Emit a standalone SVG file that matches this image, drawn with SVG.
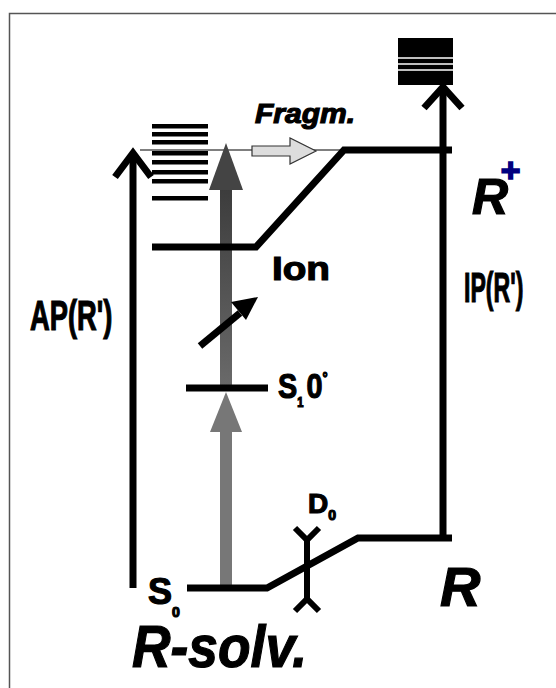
<svg xmlns="http://www.w3.org/2000/svg" width="556" height="688" viewBox="0 0 556 688">
<style>
.lvl{stroke:#000;stroke-width:7;fill:none;stroke-linejoin:miter}
.arr{stroke:#000;stroke-width:7;fill:none}
.t{font-family:"Liberation Sans",Arial,sans-serif;font-weight:bold;fill:#000;stroke:#000;stroke-width:1.2}
.ti{font-family:"Liberation Sans",Arial,sans-serif;font-weight:bold;font-style:italic;fill:#000;stroke:#000;stroke-width:1.2}
</style>
<defs>
<linearGradient id="gg" x1="0" y1="0" x2="0" y2="1">
<stop offset="0" stop-color="#3c3c3c"/>
<stop offset="1" stop-color="#6a6a6a"/>
</linearGradient>
</defs>
<rect x="9.5" y="13.5" width="600" height="700" fill="#fff" stroke="#555" stroke-width="1.5"/>

<g id="connectors">
<line x1="140" y1="150" x2="345" y2="150" stroke="#000" stroke-width="1.2"/>
<g id="ap-arrow">
<line class="arr" x1="133" y1="588" x2="133" y2="154"/>
<polyline class="arr" points="115,177 133,153 151,177"/>
</g>
<g id="ip-arrow">
<line class="arr" x1="443" y1="540" x2="443" y2="90"/>
<polyline class="arr" points="424,108 443,87 462,108"/>
</g>
<g id="excite-upper">
<rect x="220" y="188" width="12" height="200" fill="url(#gg)"/>
<polygon points="226,143 209,190 243,190" fill="#444"/>
</g>
<g id="excite-lower">
<rect x="220" y="428" width="12" height="160" fill="#777"/>
<polygon points="226,392 210,432 242,432" fill="#777"/>
</g>
<g id="diag-arrow">
<line x1="200" y1="346" x2="240" y2="313" stroke="#000" stroke-width="7"/>
<polygon points="258,297 231,302 246,320" fill="#000"/>
</g>
<g id="fragm-arrow">
<polygon points="252,146 290,146 290,138 316,151 290,164 290,156 252,156" fill="#ddd" stroke="#333" stroke-width="1.2"/>
</g>
<g id="d0">
<line x1="307" y1="538" x2="307" y2="600" stroke="#000" stroke-width="6"/>
<polyline points="295,528 307,540 319,528" fill="none" stroke="#000" stroke-width="6"/>
<polyline points="295,611 307,599 319,611" fill="none" stroke="#000" stroke-width="6"/>
</g>
</g>

<g id="stack-left" fill="#000">
<rect x="152" y="124" width="56" height="4.5"/>
<rect x="152" y="132" width="56" height="4.5"/>
<rect x="152" y="140" width="56" height="4.5"/>
<rect x="152" y="151" width="56" height="4.5"/>
<rect x="152" y="160" width="56" height="4.5"/>
<rect x="152" y="170" width="56" height="4.5"/>
<rect x="152" y="179" width="56" height="4.5"/>
<rect x="152" y="196" width="56" height="4.5"/>
</g>

<g id="stack-right">
<rect x="398" y="38" width="55" height="47" fill="#000"/>
<line x1="398" y1="58" x2="453" y2="58" stroke="#fff" stroke-width="1.5"/>
<line x1="398" y1="64" x2="453" y2="64" stroke="#fff" stroke-width="1.5"/>
<line x1="398" y1="70" x2="453" y2="70" stroke="#fff" stroke-width="1.5"/>
</g>

<g id="ion-level">
<polyline class="lvl" points="152,247 256,247 344,150 452,150"/>
</g>
<g id="s1-level">
<line class="lvl" x1="186" y1="388" x2="268" y2="388"/>
</g>
<g id="s0-level">
<polyline class="lvl" points="187,588 267,588 358,538 452,538"/>
</g>

<g id="labels">
<text class="ti" x="255" y="123" font-size="28" textLength="100" lengthAdjust="spacingAndGlyphs">Fragm.</text>
<text class="ti" x="472" y="214" font-size="50">R<tspan font-size="34" dx="-8" dy="-32" style="fill:#000080;stroke:#000080;stroke-width:1.5">+</tspan></text>
<text class="t" x="272" y="280" font-size="34" textLength="58" lengthAdjust="spacingAndGlyphs">Ion</text>
<text class="t" transform="translate(30,330) scale(0.65,1)" font-size="42">AP(R')</text>
<text class="t" transform="translate(464,302) scale(0.55,1)" font-size="42">IP(R')</text>
<text class="t" transform="translate(278,398) scale(0.8,1)" font-size="36">S<tspan font-size="14" dy="9">1 </tspan><tspan dy="-9">0</tspan><tspan font-size="16" dy="-14">°</tspan></text>
<text class="t" x="308" y="513" font-size="28">D<tspan font-size="14" dy="7">0</tspan></text>
<text class="t" x="148" y="604" font-size="36">S<tspan font-size="14" dy="13">0</tspan></text>
<text class="ti" x="440" y="606" font-size="56">R</text>
<text class="ti" x="132" y="667" font-size="60" textLength="175" lengthAdjust="spacingAndGlyphs">R-solv.</text>
</g>
</svg>
